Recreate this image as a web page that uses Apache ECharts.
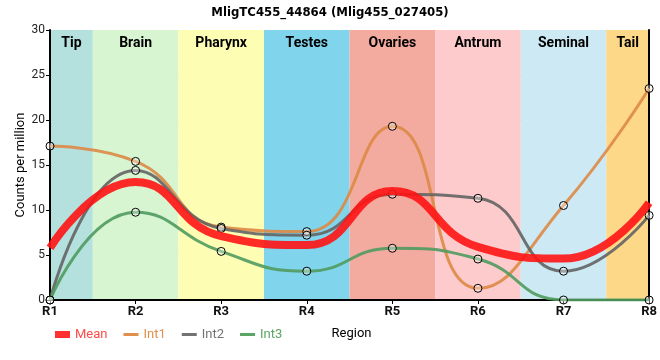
<!DOCTYPE html>
<html><head><meta charset="utf-8">
<script src="https://cdn.jsdelivr.net/npm/echarts@6/dist/echarts.min.js"></script>
<style>html,body{margin:0;padding:0;background:#fff}#c{width:660px;height:360px}</style>
</head><body><div id="c"></div>
<script>
var categories = ['R1','R2','R3','R4','R5','R6','R7','R8'];
var meanVals = [5.8, 13.1, 7.1, 6.1, 12.1, 5.9, 4.6, 10.8];
var int1Vals = [17.1, 15.4, 8.1, 7.6, 19.3, 1.3, 10.5, 23.5];
var int2Vals = [0, 14.4, 7.95, 7.2, 11.75, 11.3, 3.2, 9.4];
var int3Vals = [0, 9.75, 5.4, 3.2, 5.75, 4.55, 0, 0];
var regions = ['Tip','Brain','Pharynx','Testes','Ovaries','Antrum','Seminal','Tail'];
var regionColors = ['#b4e1dd','#d7f5d1','#fefdb4','#80d4ec','#f4ab9f','#fdcbcb','#cdeaf4','#fdd888'];
var yTicks = [0, 5, 10, 15, 20, 25, 30];

function pts(arr){ return arr.map(function(v,i){ return [i+1, v]; }); }

var bands = regions.map(function(r,i){
  var x0 = Math.max(1, i+0.5), x1 = Math.min(8, i+1.5);
  return [{name:r, xAxis:x0, itemStyle:{color:regionColors[i]}}, {xAxis:x1}];
});

var font = 'DejaVu Sans Condensed, Liberation Sans Narrow, sans-serif';
var chart = echarts.init(document.getElementById('c'), null, {renderer:'canvas'});
var sym = {symbol:'circle', symbolSize:8, itemStyle:{color:'rgba(255,255,255,0.35)', borderColor:'#000', borderWidth:1}};
var lineIcon = 'path://M0,0h15v3h-15z';
chart.setOption({
  animation:false,
  title:{text:'MligTC455_44864 (Mlig455_027405)', left:'center', top:1,
    textStyle:{fontFamily:font, fontWeight:'bold', fontSize:13, color:'#000'}},
  grid:{left:50, right:9, top:30, bottom:60},
  legend:{left:50, top:323, itemWidth:15, itemHeight:7, itemGap:16,
    textStyle:{fontFamily:'Roboto, sans-serif', fontSize:13},
    data:[
      {name:'Mean', icon:'rect', textStyle:{color:'#ff4a4a'}, itemStyle:{color:'#ff3030', borderWidth:0}},
      {name:'Int1', icon:lineIcon, textStyle:{color:'#e0904c'}, itemStyle:{color:'#e0904c', borderWidth:0}},
      {name:'Int2', icon:lineIcon, textStyle:{color:'#737373'}, itemStyle:{color:'#737373', borderWidth:0}},
      {name:'Int3', icon:lineIcon, textStyle:{color:'#5aa464'}, itemStyle:{color:'#5aa464', borderWidth:0}}
    ]},
  xAxis:{type:'value', min:1, max:8, interval:1,
    name:'Region', nameLocation:'middle', nameGap:27,
    nameTextStyle:{fontFamily:'Roboto, sans-serif', fontSize:13, color:'#000', padding:[0,0,0,4]},
    axisLine:{lineStyle:{color:'#000', width:2}},
    axisTick:{show:true, length:4, lineStyle:{color:'#000'}},
    axisLabel:{formatter:function(v){return categories[v-1];}, fontFamily:'Roboto, sans-serif', fontWeight:'bold', fontSize:13, color:'#111', margin:5},
    splitLine:{show:true, lineStyle:{color:'#c8c8c8', width:1}}},
  yAxis:[{type:'value', min:yTicks[0], max:yTicks[yTicks.length-1], interval:5,
    name:'Counts per million', nameLocation:'middle', nameGap:23, nameMoveOverlap:false,
    nameTextStyle:{fontFamily:'Roboto, sans-serif', fontSize:13, color:'#000'},
    axisLine:{show:true, lineStyle:{color:'#000', width:2}},
    axisTick:{show:true, length:4, lineStyle:{color:'#000'}},
    axisLabel:{fontFamily:'Roboto, sans-serif', fontSize:12, color:'#222', margin:5},
    splitLine:{show:true, lineStyle:{color:'#c8c8c8', width:1}}},
   {type:'value', position:'right', min:0, max:30, interval:5,
    axisLine:{show:true, lineStyle:{color:'#000', width:2}},
    axisTick:{show:false}, axisLabel:{show:false}, splitLine:{show:false}}],
  series:[
    {name:'Mean', type:'line', data:pts(meanVals), smooth:0.5, showSymbol:false, symbol:'none', z:4,
     color:'#ff2222', lineStyle:{width:8, color:'rgba(255,20,20,0.9)'},
     markArea:{silent:true, z:0, label:{show:true, position:'insideTop', distance:6,
       fontFamily:'Roboto, sans-serif', fontWeight:'bold', fontSize:14, color:'#000'}, data:bands}},
    Object.assign({name:'Int1', type:'line', data:pts(int1Vals), smooth:0.5, z:3, color:'#e0904c',
     lineStyle:{width:3, color:'rgba(221,138,70,0.9)'}}, sym),
    Object.assign({name:'Int2', type:'line', data:pts(int2Vals), smooth:0.5, z:3, color:'#737373',
     lineStyle:{width:3, color:'rgba(100,100,100,0.9)'}}, sym),
    Object.assign({name:'Int3', type:'line', data:pts(int3Vals), smooth:0.5, z:3, color:'#5aa464',
     lineStyle:{width:3, color:'rgba(80,155,95,0.9)'}}, sym)
  ]
});
</script></body></html>
